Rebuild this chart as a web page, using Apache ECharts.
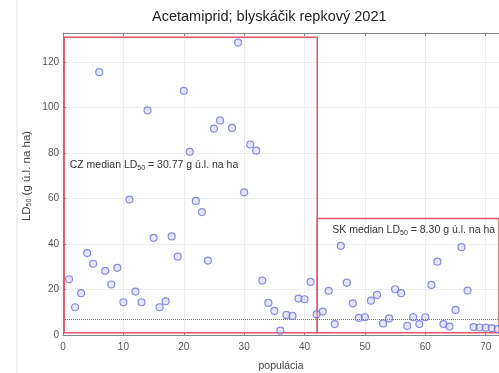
<!DOCTYPE html>
<html>
<head>
<meta charset="utf-8">
<script src="https://cdn.jsdelivr.net/npm/echarts@6/dist/echarts.min.js"></script>
<style>html,body{margin:0;padding:0;background:#fff}#c{width:499px;height:373px}</style>
</head>
<body>
<div id="c"></div>
<script>
// population index and LD50 values (g ú.l. na ha)
const czX = [1,2,3,4,5,6,7,8,9,10,11,12,13,14,15,16,17,18,19,20,21,22,23,24,25,26,28,29,30,31,32,33,34,35,36,37,38,39,40,41];
const czY = [24.5,12.2,18.4,36,31.3,115.5,28.2,22.2,29.5,14.4,59.5,19.1,14.4,98.7,42.7,12.2,14.8,43.3,34.4,107.3,80.5,58.9,54,32.7,90.7,94.3,91,128.5,62.7,83.7,81,23.9,14.1,10.6,1.9,8.8,8.4,16,15.7,23.3];
const skX = [42,43,44,45,46,47,48,49,50,51,52,53,54,55,56,57,58,59,60,61,62,63,64,65,66,67,68,69,70,71,72];
const skY = [9.1,10.3,19.4,4.8,39.2,23,13.9,7.5,7.8,15.1,17.6,5.1,7.3,20.1,18.4,4,7.8,4.8,7.8,22,32.2,4.8,3.7,11,38.6,19.5,3.5,3.3,3.2,3.0,2.6];
const xTicks = [0,10,20,30,40,50,60,70];
const yTicks = [0,20,40,60,80,100,120];
const czMedian = 30.77;
const skMedian = 8.30;
const refLine = 7;
const titleText = 'Acetamiprid; blyskáčik repkový 2021';

const FONT = 'Liberation Sans, Arial, sans-serif';
const chart = echarts.init(document.getElementById('c'));
const pts = (xs, ys) => xs.map((x, i) => [x, ys[i]]);
const ptStyle = { color: 'rgba(195,195,245,0.55)', borderColor: '#7070d8', borderWidth: 1.2 };
const red = '#e0566a';
const axisBase = {
  type: 'value', min: 0, max: 72.2, interval: 10,
  axisLine: { show: true, lineStyle: { color: '#888', width: 1 } },
  axisTick: { show: true, inside: true, length: 3, lineStyle: { color: '#888' } },
  splitLine: { show: false }
};
const noteLabel = (txt) => ({
  show: true, position: 'right', distance: 0, fontFamily: FONT, fontSize: 10.5, color: '#333',
  formatter: txt,
  rich: { s: { fontSize: 7, fontFamily: FONT, color: '#333', verticalAlign: 'bottom', padding: [6, 0, 0, 0] } }
});
chart.setOption({
  animation: false,
  backgroundColor: '#fff',
  title: { text: titleText, left: 147, top: 4, textStyle: { fontFamily: FONT, fontSize: 14.5, fontWeight: 'normal', color: '#222' } },
  grid: { left: 63, right: 0, top: 33, bottom: 38, containLabel: false, outerBoundsMode: 'none' },
  xAxis: [
    Object.assign({}, axisBase, {
      position: 'bottom',
      name: 'populácia', nameLocation: 'middle', nameGap: 26,
      nameTextStyle: { fontFamily: FONT, fontSize: 10.5, color: '#444' },
      axisLabel: { fontFamily: FONT, fontSize: 10, color: '#555', margin: 7, showMaxLabel: false,
        formatter: v => xTicks.includes(v) ? String(v) : '' },
      splitLine: { show: true, lineStyle: { color: '#eeeeee', width: 1 } }
    }),
    Object.assign({}, axisBase, { position: 'top', axisLabel: { show: false } })
  ],
  yAxis: {
    type: 'value', min: 0, max: 132.7, interval: 20,
    axisLine: { show: true, lineStyle: { color: '#888', width: 1 } },
    axisTick: { show: true, inside: true, length: 3, lineStyle: { color: '#888' } },
    axisLabel: { fontFamily: FONT, fontSize: 10, color: '#555', margin: 4, showMaxLabel: false,
      formatter: v => yTicks.includes(v) ? String(v) : '' },
    splitLine: { show: true, lineStyle: { color: '#eeeeee', width: 1 } }
  },
  graphic: [
    { type: 'line', shape: { x1: 17, y1: 0, x2: 17, y2: 373 }, style: { stroke: '#e2e2e2', lineWidth: 1 }, silent: true },
    { type: 'text', x: 27, y: 176, rotation: Math.PI / 2,
      style: { text: 'LD{s|50} (g ú.l. na ha)', fontFamily: FONT, fontSize: 11.5, fill: '#444', align: 'center', verticalAlign: 'middle',
        rich: { s: { fontSize: 7, fontFamily: FONT, fill: '#444', verticalAlign: 'bottom', padding: [5, 0, 0, 0] } } } }
  ],
  series: [
    {
      name: 'CZ', type: 'scatter', symbol: 'circle', symbolSize: 7, data: pts(czX, czY), itemStyle: ptStyle,
      markArea: { silent: true, itemStyle: { color: 'rgba(0,0,0,0)', borderColor: red, borderWidth: 1.5 },
        data: [[{ coord: [0.2, 1] }, { coord: [42.1, 130.8] }]] },
      markLine: { silent: true, symbol: 'none', label: { show: false },
        lineStyle: { type: 'dotted', color: '#777', width: 1 }, data: [{ yAxis: refLine }] },
      markPoint: { silent: true, symbol: 'circle', symbolSize: 0,
        data: [{ coord: [1.1, 74.6], label: noteLabel('CZ median LD{s|50} = ' + czMedian.toFixed(2) + ' g ú.l. na ha') }] }
    },
    {
      name: 'SK', type: 'scatter', symbol: 'circle', symbolSize: 7, data: pts(skX, skY), itemStyle: ptStyle,
      markArea: { silent: true, itemStyle: { color: 'rgba(0,0,0,0)', borderColor: red, borderWidth: 1.5 },
        data: [[{ coord: [42.1, 1] }, { coord: [73, 51.2] }]] },
      markPoint: { silent: true, symbol: 'circle', symbolSize: 0,
        data: [{ coord: [44.6, 46.1], label: noteLabel('SK median LD{s|50} = ' + skMedian.toFixed(2) + ' g ú.l. na ha') }] }
    }
  ]
});
</script>
</body>
</html>
